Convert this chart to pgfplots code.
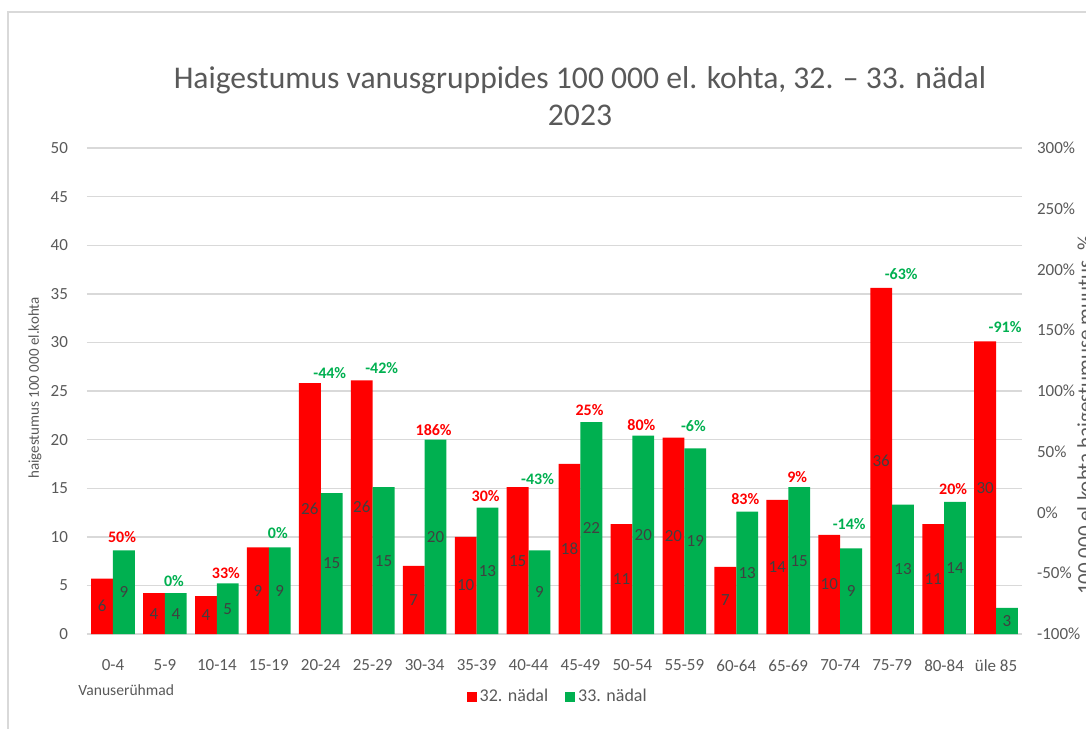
\documentclass[border=0pt]{standalone}
\usepackage{pgfplots}
\pgfplotsset{compat=1.18}
\usepackage{pgfplotstable}
\usepackage{fontspec}
\setmainfont{Carlito}

\definecolor{barred}{HTML}{FF0000}
\definecolor{bargreen}{HTML}{00B050}
\definecolor{gridgray}{HTML}{D9D9D9}
\definecolor{txtgray}{HTML}{595959}
\definecolor{lblgray}{HTML}{404040}

% incidence per 100 000, weeks 32 and 33, with the printed labels
\pgfplotstableread{
x w32 w33 l32 l33
0 5.7 8.6 6 9
1 4.2 4.2 4 4
2 3.9 5.2 4 5
3 8.9 8.9 9 9
4 25.8 14.5 26 15
5 26.1 15.1 26 15
6 7.0 20.0 7 20
7 10.0 13.0 10 13
8 15.1 8.6 15 9
9 17.5 21.8 18 22
10 11.3 20.4 11 20
11 20.2 19.1 20 19
12 6.9 12.6 7 13
13 13.8 15.1 14 15
14 10.2 8.8 10 9
15 35.6 13.3 36 13
16 11.3 13.6 11 14
17 30.1 2.7 30 3
}\rates

% change labels (position on the % axis), increases
\pgfplotstableread{
x y t
0 -20 50
2 -49.6 33
6 68 186
7 13.6 30
9 84 25
10 72 80
12 11.2 83
13 28.8 9
16 19.2 20
}\uptab

% change labels, decreases
\pgfplotstableread{
x y t
1 -56.8 0
3 -16.8 0
4 114.8 -44
5 119.2 -42
8 27.2 -43
11 71.2 -6
14 -9.6 -14
15 196 -63
17 152.8 -91
}\downtab

\pgfplotsset{
  common/.style={
    scale only axis, width=467.5pt, height=243pt,
    at={(0,0)}, anchor=south west,
    xmin=-0.5, xmax=17.5,
    axis line style={draw=none}, tick style={draw=none},
    ticklabel style={font=\fontsize{8.5}{10}\selectfont, color=txtgray},
    /pgf/number format/assume math mode=true,
  },
  barlbl/.style={
    nodes near coords, point meta=explicit symbolic,
    visualization depends on={rawy \as \rawy},
    nodes near coords style={anchor=center, color=lblgray,
      font=\fontsize{8.5}{10}\selectfont, yshift={-2.43pt*\rawy}},
  },
  pctlbl/.style={
    draw=none, mark=none, only marks,
    nodes near coords={\pgfplotspointmeta\%}, point meta=explicit symbolic,
    nodes near coords style={anchor=center, color=#1, xshift=4.5pt,
      font=\bfseries\fontsize{8}{10}\selectfont},
  },
}

\begin{document}
\begin{tikzpicture}
\begin{axis}[common,
  ybar, bar width=0.42,
  ymin=0, ymax=50, ytick={0,5,...,50},
  ymajorgrids, grid style={gridgray, line width=0.7pt},
  xtick={0,...,17},
  xticklabels={0-4,5-9,10-14,15-19,20-24,25-29,30-34,35-39,40-44,45-49,50-54,55-59,60-64,65-69,70-74,75-79,80-84,üle 85},
  xticklabel style={yshift=-5pt},
  yticklabel style={xshift=-6pt},
  legend style={at={(0.504,-0.13)}, anchor=center, draw=none, fill=none,
    legend columns=2, font=\fontsize{9}{11}\selectfont, text=txtgray,
    /tikz/every even column/.append style={column sep=7pt},
    nodes={inner xsep=1.5pt}},
  legend image code/.code={\fill[#1] (0pt,-2.5pt) rectangle (5pt,2.5pt);},
]
\addplot[fill=barred, draw=none, bar shift=-0.21, barlbl] table[x=x, y=w32, meta=l32] {\rates};
\addplot[fill=bargreen, draw=none, bar shift=0.21, barlbl] table[x=x, y=w33, meta=l33] {\rates};
\legend{32. nädal, 33. nädal}
\end{axis}

\begin{axis}[common,
  axis x line=none, axis y line*=right,
  ymin=-100, ymax=300, ytick={-100,-50,...,300},
  yticklabels={-100\%,-50\%,0\%,50\%,100\%,150\%,200\%,250\%,300\%},
  yticklabel style={xshift=4pt},
]
\addplot[pctlbl=barred] table[x=x, y=y, meta=t] {\uptab};
\addplot[pctlbl=bargreen] table[x=x, y=y, meta=t] {\downtab};
\end{axis}

\node[align=center, color=txtgray, font=\fontsize{15.8}{18.5}\selectfont]
  at (246.5pt,269pt) {Haigestumus vanusgruppides 100 000 el. kohta, 32. – 33. nädal\\2023};
\node[rotate=90, color=txtgray, font=\fontsize{7.5}{9}\selectfont]
  at (-26pt,123pt) {haigestumus 100 000 el.kohta};
\node[rotate=90, anchor=north, inner sep=0pt, color=txtgray, font=\fontsize{10.5}{12}\selectfont]
  at (495pt,109.5pt) {100 000 el.kohta haigestumuse muutus, \%};
\node[anchor=west, inner sep=0pt, color=txtgray, font=\fontsize{7.8}{9}\selectfont]
  at (-4.5pt,-28pt) {Vanuserühmad};
\draw[gridgray, line width=0.6pt] (-39.5pt,-60pt) -- (-39.5pt,311pt) -- (520pt,311pt);

\pgfresetboundingbox
\useasboundingbox (-43.5pt,-47pt) rectangle (499.5pt,317pt);
\end{tikzpicture}
\end{document}
